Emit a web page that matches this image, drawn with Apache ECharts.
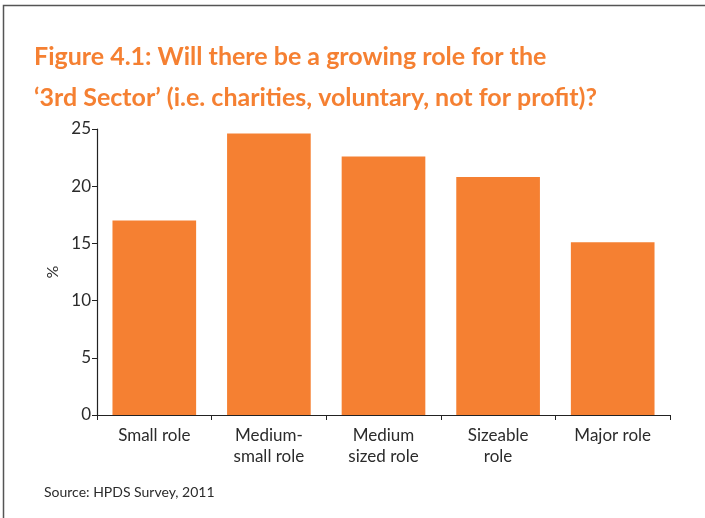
<!DOCTYPE html>
<html>
<head>
<meta charset="utf-8">
<script src="https://cdn.jsdelivr.net/npm/echarts@6/dist/echarts.min.js"></script>
<style>
  html, body { margin: 0; padding: 0; background: #fff; }
  #chart { width: 705px; height: 518px; }
</style>
</head>
<body>
<div id="chart"></div>
<script>
// Survey responses: expected role of the third sector
const categories = ['Small role', 'Medium-\nsmall role', 'Medium\nsized role', 'Sizeable\nrole', 'Major role'];
const percentValues = [17.0, 24.6, 22.6, 20.8, 15.1];
const yTicks = [0, 5, 10, 15, 20, 25];

const orange = '#F58032';
const ink = '#2b2b2b';
const font = 'Lato';

const chart = echarts.init(document.getElementById('chart'), null, { renderer: 'canvas' });
chart.setOption({
  animation: false,
  backgroundColor: '#fff',
  graphic: [
    {
      type: 'rect',
      shape: { x: 3.5, y: 5.5, width: 720, height: 540 },
      style: { fill: 'none', stroke: '#555', lineWidth: 1.5 },
      silent: true
    },
    {
      type: 'text',
      left: 34, top: 36,
      style: {
        text: 'Figure 4.1: Will there be a growing role for the\n‘3rd Sector’ (i.e. charities, voluntary, not for profit)?',
        fill: orange,
        font: 'bold 25px ' + font,
        lineHeight: 41
      }
    },
    {
      type: 'text',
      left: 44, top: 485,
      style: { text: 'Source: HPDS Survey, 2011', fill: ink, font: '14px ' + font }
    }
  ],
  grid: { left: 97, right: 35, top: 129, bottom: 103, containLabel: false },
  xAxis: {
    type: 'category',
    data: categories,
    axisLine: { lineStyle: { color: '#222', width: 1.2 } },
    axisTick: { show: true, alignWithLabel: false, length: 5, lineStyle: { color: '#222' } },
    axisLabel: { color: ink, fontFamily: font, fontSize: 17, lineHeight: 21, margin: 10, interval: 0 }
  },
  yAxis: {
    type: 'value',
    min: 0, max: 25, interval: 5,
    name: '%',
    nameLocation: 'middle',
    nameGap: 36,
    nameRotate: 90,
    nameTextStyle: { color: ink, fontFamily: font, fontSize: 16 },
    splitLine: { show: false },
    axisLine: { show: true, lineStyle: { color: '#222', width: 1.2 } },
    axisTick: { show: true, length: 5, lineStyle: { color: '#222' } },
    axisLabel: {
      color: ink, fontFamily: font, fontSize: 17, margin: 6,
      formatter: v => (yTicks.includes(v) ? String(v) : '')
    }
  },
  series: [{
    type: 'bar',
    data: percentValues,
    barCategoryGap: '27%',
    itemStyle: { color: orange }
  }]
});
</script>
</body>
</html>
